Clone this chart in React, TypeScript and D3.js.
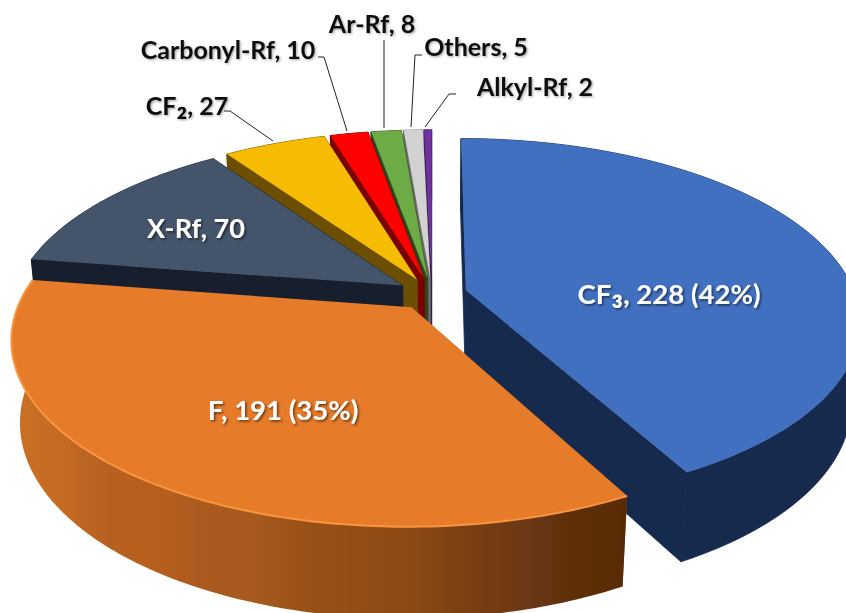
import React from "react";
import * as d3 from "d3";

const categories = ["CF₃", "F", "X-Rf", "CF₂", "Carbonyl-Rf", "Ar-Rf", "Others", "Alkyl-Rf"];
const values = [228, 191, 70, 27, 10, 8, 5, 2];
const topColors = ["#4270c1", "#e67b2a", "#44546a", "#f6bb03", "#fe0000", "#6dab46", "#d2d2d2", "#7030a0"];
const sideColors = ["#162a4e", "#8f4a14", "#171e2d", "#6b4e00", "#7a0000", "#2c451c", "#6b6b6b", "#35194f"];
const drawOrder = [7, 6, 5, 4, 3, 2, 0, 1];
const labelTexts = ["CF₃, 228 (42%)", "F, 191 (35%)", "X-Rf, 70", "CF₂, 27", "Carbonyl-Rf, 10", "Ar-Rf, 8", "Others, 5", "Alkyl-Rf, 2"];
const labelSizes = [27.5, 27.5, 27, 25, 25, 25, 25, 25];
const labelPos: [number, number][] = [[669, 304], [283, 420], [196, 238], [187, 115], [228, 59], [372, 33], [476, 56], [535, 96]];
const leaderPaths: [number, number][][] = [
  [], [], [],
  [[224, 111], [230, 111], [273, 141]],
  [[318, 57], [324, 57], [347, 131]],
  [[384, 40], [384, 128]],
  [[422, 55], [415, 55], [411, 127]],
  [[456, 94], [449, 94], [425, 127]],
];
const wallStops: [number, string][] = [
  [12, "#c97025"], [60, "#c66c22"], [85, "#bc6423"], [110, "#b8601f"], [170, "#b55e1e"], [200, "#ab5a20"],
  [250, "#a85a1e"], [300, "#9b5116"], [400, "#8e4a14"], [470, "#7a3f12"], [540, "#683616"], [565, "#5f3008"], [600, "#5c2e06"], [622, "#592b05"],
];

const CX = 432, CY = 294, R = 389, K = 178, D = 6, H = 82, ZH = 0.12, EXPLODE = 0.09;
const xScale = d3.scaleLinear().domain([0, 1]).range([0, R]);
const yScale = d3.scaleLinear().domain([0, 1]).range([0, K]);

type P = [number, number];

function project(X: number, Y: number, low: boolean): P {
  const s = D / (D - Y + (low ? ZH : 0));
  return [CX + xScale(X) * s, CY + yScale(Y) * s + (low ? H * s : 0)];
}

function renderLabel(t: string, size: number) {
  return Array.from(t).map((ch, j) =>
    ch === "₂" || ch === "₃" ? (
      <tspan key={j} fontSize={size * 1.3}>{ch}</tspan>
    ) : (
      <tspan key={j}>{ch}</tspan>
    )
  );
}

export default function App() {
  const arcs = d3.pie<number>().sort(null).startAngle(0).endAngle(2 * Math.PI)(values);
  const line = d3.line();
  const closed = (pts: P[]) => (line(pts) || "") + "Z";

  const slices = arcs.map((a, i) => {
    const mid = (a.startAngle + a.endAngle) / 2;
    const ox = EXPLODE * Math.sin(mid);
    const oy = -EXPLODE * Math.cos(mid);
    const n = Math.max(2, Math.ceil((a.endAngle - a.startAngle) * 60));
    const angles = d3.range(n + 1).map((j) => a.startAngle + ((a.endAngle - a.startAngle) * j) / n);
    const rim = (low: boolean): P[] => angles.map((t) => project(ox + Math.sin(t), oy - Math.cos(t), low));
    const apexTop = project(ox, oy, false);
    const apexLow = project(ox, oy, true);
    const top = rim(false);
    const low = rim(true);
    return { i, apexTop, apexLow, top, low };
  });

  return (
    <svg width={846} height={613} style={{ position: "fixed", left: 0, top: 0, background: "#fff" }} fontFamily="Lato, 'Open Sans', sans-serif">
      <defs>
        <linearGradient id="orangeWall" gradientUnits="userSpaceOnUse" x1={12} x2={622} y1={0} y2={0}>
          {wallStops.map(([x, c]) => (
            <stop key={x} offset={(x - 12) / 610} stopColor={c} />
          ))}
        </linearGradient>
        <filter id="soft" x="-10%" y="-10%" width="120%" height="120%">
          <feGaussianBlur stdDeviation="0.6" />
        </filter>
        <filter id="shadow" x="-10%" y="-30%" width="120%" height="170%">
          <feDropShadow dx="1.5" dy="1.5" stdDeviation="1.2" floodColor="#000" floodOpacity="0.55" />
        </filter>
        <filter id="shadowDark" x="-10%" y="-30%" width="120%" height="170%">
          <feDropShadow dx="1.2" dy="1.2" stdDeviation="1" floodColor="#000" floodOpacity="0.35" />
        </filter>
      </defs>
      {drawOrder.map((idx) => {
        const s = slices[idx];
        const side = sideColors[idx];
        const wallFill = idx === 1 ? "url(#orangeWall)" : side;
        const startFace: P[] = [s.apexTop, s.top[0], s.low[0], s.apexLow];
        const endFace: P[] = [s.apexTop, s.top[s.top.length - 1], s.low[s.low.length - 1], s.apexLow];
        const wall: P[] = [...s.top, ...[...s.low].reverse()];
        return (
          <g key={idx}>
            {idx !== 1 && <path d={closed(endFace)} fill={side} stroke={side} strokeWidth={0.8} />}
            <path d={closed(startFace)} fill={side} stroke={idx === 1 ? "none" : side} strokeWidth={0.8} />
            <path d={closed(wall)} fill={wallFill} stroke={idx === 1 ? "none" : side} strokeWidth={0.8} />
            <path d={closed([s.apexTop, ...s.top])} fill={topColors[idx]} />
            {idx === 1 && <path d={line(s.top) || ""} fill="none" stroke="#f8953f" strokeWidth={2} filter="url(#soft)" />}
          </g>
        );
      })}
      {leaderPaths.map((pts, i) =>
        pts.length ? <path key={i} d={line(pts as P[]) || ""} fill="none" stroke="#222" strokeWidth={1} /> : null
      )}
      {labelTexts.map((t, i) => (
        <text
          key={categories[i]}
          x={labelPos[i][0]}
          y={labelPos[i][1]}
          textAnchor="middle"
          fontSize={labelSizes[i]}
          fontWeight={700}
          fill={i < 3 ? "#fff" : "#111"}
          filter={i < 3 ? "url(#shadow)" : "url(#shadowDark)"}
        >
          {renderLabel(t, labelSizes[i])}
        </text>
      ))}
    </svg>
  );
}
